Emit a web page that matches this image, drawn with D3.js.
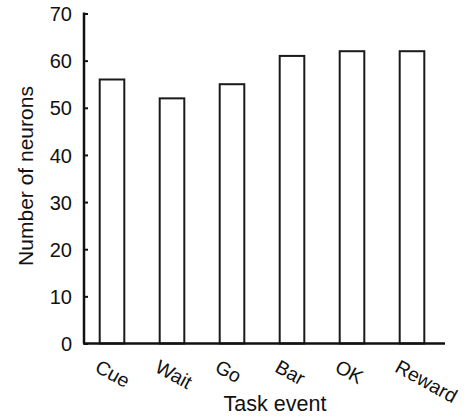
<!DOCTYPE html>
<html>
<head>
  <title>Number of neurons by task event</title>
  <script src="https://d3js.org/d3.v7.min.js"></script>
  <style>
    body { margin: 0; background: #fff; }
    text { font-family: "Liberation Sans", Arial, sans-serif; fill: #111; }
  </style>
</head>
<body>
  <div id="chart"></div>
  <script>
    // data
    const events = ["Cue", "Wait", "Go", "Bar", "OK", "Reward"];
    const neurons = [56, 52, 55, 61, 62, 62];
    const yTicks = [0, 10, 20, 30, 40, 50, 60, 70];

    const width = 466, height = 417;

    const svg = d3.select("#chart")
                  .append("svg")
                  .attr("width", width)
                  .attr("height", height);

    // scales
    const x = d3.scaleBand()
                .domain(events)
                .range([82, 442])
                .paddingInner(0.59)
                .paddingOuter(0.295);

    const y = d3.scaleLinear()
                .domain([0, 70])
                .range([343.5, 13.5]);

    // bars
    svg.selectAll("rect.bar")
       .data(events)
       .enter()
       .append("rect")
       .attr("class", "bar")
       .attr("x", d => x(d))
       .attr("y", (d, i) => y(neurons[i]))
       .attr("width", x.bandwidth())
       .attr("height", (d, i) => y(0) - y(neurons[i]))
       .attr("fill", "#fff")
       .attr("stroke", "#1a1a1a")
       .attr("stroke-width", 2);

    // Y axis (ticks point inward)
    const yAxis = svg.append("g")
       .attr("transform", "translate(84,0)")
       .call(d3.axisRight(y).tickValues(yTicks).tickSize(4).tickFormat(d3.format("d")));
    yAxis.select(".domain").remove();
    yAxis.append("line")
         .attr("x1", 0).attr("x2", 0)
         .attr("y1", y(70) - 1).attr("y2", y(0))
         .attr("stroke", "#111").attr("stroke-width", 2.5);
    yAxis.selectAll(".tick line").attr("stroke", "#111").attr("stroke-width", 2);
    yAxis.selectAll(".tick text")
         .attr("x", -12)
         .attr("dy", "0.36em")
         .attr("text-anchor", "end")
         .style("font-size", "20px");

    // X axis line
    svg.append("line")
       .attr("x1", 83).attr("x2", 445)
       .attr("y1", y(0)).attr("y2", y(0))
       .attr("stroke", "#111").attr("stroke-width", 2.5);

    // slanted category labels
    svg.selectAll("text.cat")
       .data(events)
       .enter()
       .append("text")
       .attr("class", "cat")
       .attr("transform", d => `translate(${x(d) - 6},371) rotate(29)`)
       .attr("text-anchor", "start")
       .style("font-size", "19.5px")
       .text(d => d);

    // axis titles
    svg.append("text")
       .attr("x", 275)
       .attr("y", 411)
       .attr("text-anchor", "middle")
       .style("font-size", "21.5px")
       .text("Task event");

    svg.append("text")
       .attr("transform", "translate(33,176) rotate(-90)")
       .attr("text-anchor", "middle")
       .style("font-size", "21px")
       .text("Number of neurons");
  </script>
</body>
</html>
